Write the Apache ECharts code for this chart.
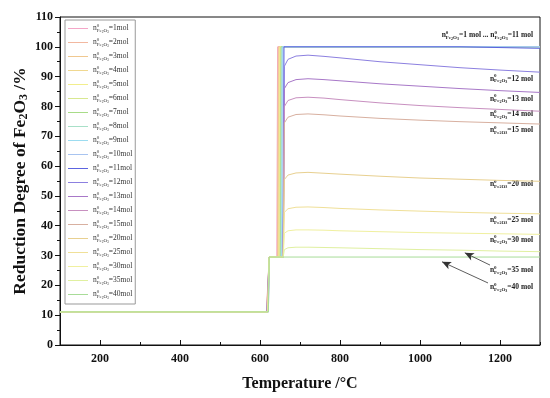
<!DOCTYPE html>
<html><head><meta charset="utf-8">
<script src="https://cdn.jsdelivr.net/npm/echarts@6/dist/echarts.min.js"></script>
<style>html,body{margin:0;padding:0;background:#fff}#c{width:550px;height:398px}</style>
</head><body><div id="c"></div>
<script>
// ---- data ----
const seriesNames = ['1mol','2mol','3mol','4mol','5mol','6mol','7mol','8mol','9mol','10mol','11mol','12mol','13mol','14mol','15mol','20mol','25mol','30mol','35mol','40mol'];
const colors = ['#f4a6c8','#f2b8a0','#f0c890','#f0d890','#f2ee8c','#d8e890','#a8dc88','#a8e0c8','#9cdcf0','#a8c4f0','#5c64e0','#8c80e0','#a878c8','#c890c0','#d8b0a0','#e8d090','#f0e098','#f0f0a0','#e0f0a0','#a8dc98'];
const baseLevel = 11.1;      // % before first step
const stepLevel = 29.5;      // % plateau after first step
const startT = 100;
const step1T = [616,616.5,617,617.5,618,618.5,619,619.5,620,620.5,621,617,617.5,618,618.5,619,619.5,620,620.5,621];
const step1EndT = 623;
// series 1-11 jump to full reduction
const jumpT = [642,643.5,645,646.5,648,649.5,651,652.5,654,656,658];
const fullT = [1300,1300,1300,1300,1300,1300,1300,1300,1300,1300,1100];
const s11Tail = [[1300, 99.5]];
// series 12-40: temperature grid after jump
const curveT = [661,670,690,720,760,800,900,1000,1100,1200,1300];
const s12 = [93.5,95.8,96.9,97.2,96.8,96.3,95.0,94.0,93.0,92.2,91.5];
const s13 = [86.0,88.0,89.0,89.3,89.0,88.6,87.6,86.8,86.0,85.3,84.7];
const s14 = [80.0,82.0,82.9,83.1,82.8,82.3,81.2,80.3,79.6,79.0,78.4];
const s15 = [74.5,76.4,77.3,77.5,77.2,76.8,76.0,75.4,74.9,74.5,74.1];
const s20 = [55.5,57.0,57.7,57.9,57.6,57.3,56.6,56.0,55.6,55.2,54.9];
const s25 = [44.5,45.7,46.2,46.3,46.1,45.8,45.3,44.9,44.5,44.2,44.0];
const s30 = [37.5,38.3,38.6,38.6,38.5,38.3,38.0,37.7,37.5,37.3,37.1];
const s35 = [32.0,32.6,32.8,32.8,32.7,32.6,32.3,32.0,31.8,31.5,31.3];
const s40 = [29.5,29.5,29.5,29.5,29.5,29.5,29.5,29.5,29.5,29.5,29.5];
const curveVals = [s12,s13,s14,s15,s20,s25,s30,s35,s40];
const xTickLabels = [200,400,600,800,1000,1200];
const xMinorTicks = [300,500,700,900,1100,1300];
// annotations: [label text, y value of anchor]
const annoRight = [['12 mol',89.0],['13 mol',82.3],['14 mol',77.0],['15 mol',71.8],['20 mol',53.7],['25 mol',41.6],['30 mol',35.0],['35 mol',24.8],['40 mol',19.1]];
// arrows [fromT, fromV, toT, toV]
const arrows = [[1175,26.8,1112,30.9],[1170,20.8,1055,27.9]];

// ---- build ----
const series = [];
for (let i = 0; i < seriesNames.length; i++) {
  const d = [[startT, baseLevel],[step1T[i], baseLevel],[step1EndT, stepLevel]];
  if (i < 11) {
    d.push([jumpT[i], stepLevel],[jumpT[i]+2, 100],[fullT[i], 100]);
    if (i === 10) s11Tail.forEach(p => d.push(p));
  } else {
    const vals = curveVals[i-11];
    d.push([658, stepLevel]);
    curveT.forEach((t,k) => d.push([t, vals[k]]));
  }
  const s = {name: seriesNames[i], type:'line', data:d, symbol:'none', smooth:false,
    lineStyle:{width:1, color:colors[i]}, itemStyle:{color:colors[i]}, z: 2};
  if (i === seriesNames.length-1) {
    s.markLine = {silent:true, symbol:['none','arrow'], symbolSize:[6,9],
      lineStyle:{color:'#333', width:0.8, type:'solid'}, label:{show:false},
      data: arrows.map(a => [{coord:[a[0],a[1]]},{coord:[a[2],a[3]]}])};
  }
  series.push(s);
}

const FF = '"Liberation Serif","Times New Roman",serif';
const legRich = {
  n:{fontFamily:FF, fontSize:7.5, color:'#333'},
  sp:{fontFamily:FF, fontSize:5, color:'#333', verticalAlign:'top', width:0, padding:[0,0,5,0]},
  sb:{fontFamily:FF, fontSize:5, color:'#333', padding:[5,0,0,0]},
  ss:{fontFamily:FF, fontSize:3.5, color:'#333', padding:[7,0,0,0]},
  t:{fontFamily:FF, fontSize:7.5, color:'#333'}
};
function nFe(rest){ return '{n|n}{sp|0}{sb|Fe}{ss|2}{sb|O}{ss|3}{t|'+rest+'}'; }
const annRich = {
  n:{fontFamily:FF, fontSize:7.5, fontWeight:'bold', fill:'#222'},
  sp:{fontFamily:FF, fontSize:5, fontWeight:'bold', fill:'#222', width:0, padding:[0,0,5,0]},
  sb:{fontFamily:FF, fontSize:5, fontWeight:'bold', fill:'#222', padding:[5,0,0,0]},
  ss:{fontFamily:FF, fontSize:4, fontWeight:'bold', fill:'#222', padding:[7,0,0,0]},
  t:{fontFamily:FF, fontSize:7.5, fontWeight:'bold', fill:'#222'}
};

const chart = echarts.init(document.getElementById('c'));
const option = {
  animation:false,
  backgroundColor:'#fff',
  grid:{left:60, right:10, top:17, bottom:53, show:true, borderColor:'#111', borderWidth:1, backgroundColor:'transparent', outerBoundsMode:'none', containLabel:false},
  legend:{orient:'vertical', left:65, top:20, itemWidth:20, itemHeight:6, itemGap:3.0,
    padding:[3,3,4,3], borderColor:'#999', borderWidth:1, backgroundColor:'#fff',
    icon:'path://M0,3L20,3L20,4L0,4Z',
    data:seriesNames,
    formatter: nm => nFe('='+nm), textStyle:{rich:legRich}},
  xAxis:[{type:'value', min:100, max:1300,
    axisLine:{onZero:false, lineStyle:{color:'#111', width:1}},
    axisTick:{show:true, inside:true, length:5, customValues:xTickLabels, lineStyle:{color:'#111'}},
    axisLabel:{customValues:xTickLabels, formatter: v => String(v), fontFamily:FF, fontWeight:'bold', fontSize:12, color:'#111', margin:8},
    splitLine:{show:false},
    name:'Temperature /°C', nameLocation:'middle', nameGap:31, nameMoveOverlap:false,
    nameTextStyle:{fontFamily:FF, fontWeight:'bold', fontSize:16, color:'#111'}},
   {type:'value', min:100, max:1300, show:true, position:'bottom',
    axisLine:{show:false}, axisLabel:{show:false}, splitLine:{show:false},
    axisTick:{show:true, inside:true, length:3, customValues:xMinorTicks, lineStyle:{color:'#111'}}}],
  yAxis:{type:'value', min:0, max:110, interval:10,
    axisLine:{show:true, lineStyle:{color:'#111', width:1}},
    axisTick:{show:true, inside:false, length:5, lineStyle:{color:'#111'}},
    minorTick:{show:true, splitNumber:2, length:3, lineStyle:{color:'#111'}},
    axisLabel:{fontFamily:FF, fontWeight:'bold', fontSize:12, color:'#111', margin:7},
    splitLine:{show:false},
    name:'{a|Reduction Degree of Fe}{s|2}{a|O}{s|3}{a| /%}', nameLocation:'middle', nameGap:30, nameMoveOverlap:false,
    nameTextStyle:{rich:{a:{fontFamily:FF, fontWeight:'bold', fontSize:17.5, color:'#111'},
                          s:{fontFamily:FF, fontWeight:'bold', fontSize:12, color:'#111', padding:[8,0,0,0]}}}},
  series: series
};
chart.setOption(option);

// annotations
const g = [];
g.push({type:'text', right:17, top:30, style:{text: nFe('=1 mol ... ')+nFe('=11 mol'), rich:annRich}});
annoRight.forEach(a => {
  const p = chart.convertToPixel({xAxisIndex:0, yAxisIndex:0}, [1300, a[1]]);
  g.push({type:'text', right:17, top:p[1]-6, style:{text:nFe('='+a[0]), rich:annRich}});
});
chart.setOption({graphic:g});
</script></body></html>
